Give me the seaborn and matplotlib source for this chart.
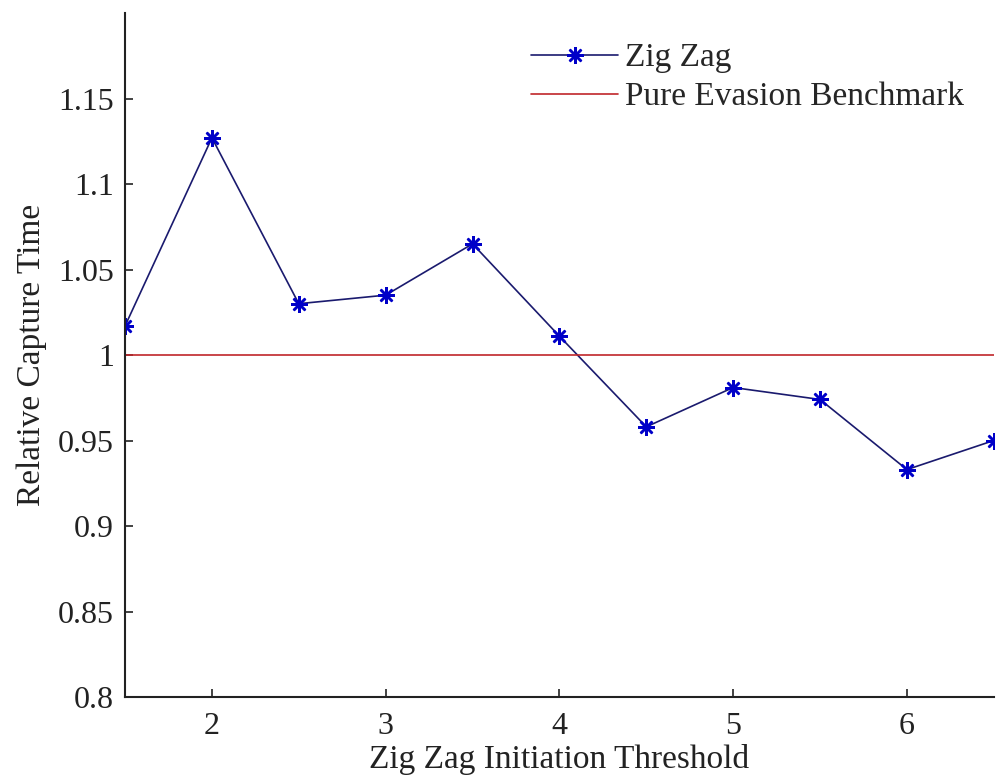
import numpy as np
import pandas as pd
import matplotlib
matplotlib.use('Agg')
import matplotlib.pyplot as plt
import seaborn as sns
from matplotlib.ticker import FormatStrFormatter

# data
thresholds = [1.5, 2.0, 2.5, 3.0, 3.5, 4.0, 4.5, 5.0, 5.5, 6.0, 6.5]
capture_time = [1.017, 1.127, 1.030, 1.035, 1.065, 1.011, 0.958, 0.981, 0.974, 0.933, 0.950]
benchmark = 1.0
x_ticks = [2, 3, 4, 5, 6]
y_ticks = [0.8, 0.85, 0.9, 0.95, 1.0, 1.05, 1.1, 1.15]

df = pd.DataFrame({'Threshold': thresholds, 'Capture': capture_time})

sns.set_style('white')
plt.rcParams['font.family'] = ['Liberation Serif', 'DejaVu Serif']

fig = plt.figure(figsize=(10.02, 7.83), dpi=100)
ax = fig.add_axes([0.1248, 0.1098, 0.867, 0.8736])

sns.lineplot(x='Threshold', y='Capture', data=df, ax=ax, color='#1a1a6e',
             linewidth=1.2, marker=(8, 2, 0), markersize=12,
             markeredgecolor='#0000c8', markerfacecolor='#0000c8',
             markeredgewidth=1.8, label='Zig Zag')
ax.axhline(benchmark, color='#c0262a', linewidth=1.2, label='Pure Evasion Benchmark')

ax.set_xlim(1.5, 6.5)
ax.set_ylim(0.8, 1.2)
ax.set_xticks(x_ticks)
ax.set_yticks(y_ticks)
ax.yaxis.set_major_formatter(FormatStrFormatter('%g'))
ax.tick_params(bottom=True, left=True, direction='in', length=6, width=1.2,
               labelsize=23, colors='#222222', pad=8)
ax.tick_params(axis='x', pad=11)

for side in ['top', 'right']:
    ax.spines[side].set_visible(False)
for side in ['left', 'bottom']:
    ax.spines[side].set_linewidth(1.5)
    ax.spines[side].set_color('#222222')

ax.set_xlabel('Zig Zag Initiation Threshold', fontsize=24, color='#222222', labelpad=2)
ax.set_ylabel('Relative Capture Time', fontsize=24, color='#222222', labelpad=8)

ax.legend(loc='upper right', bbox_to_anchor=(1.0, 1.0), frameon=False, fontsize=24,
          handlelength=2.6, handletextpad=0.2, labelspacing=0.25)

fig.savefig('out.png', dpi=100)
